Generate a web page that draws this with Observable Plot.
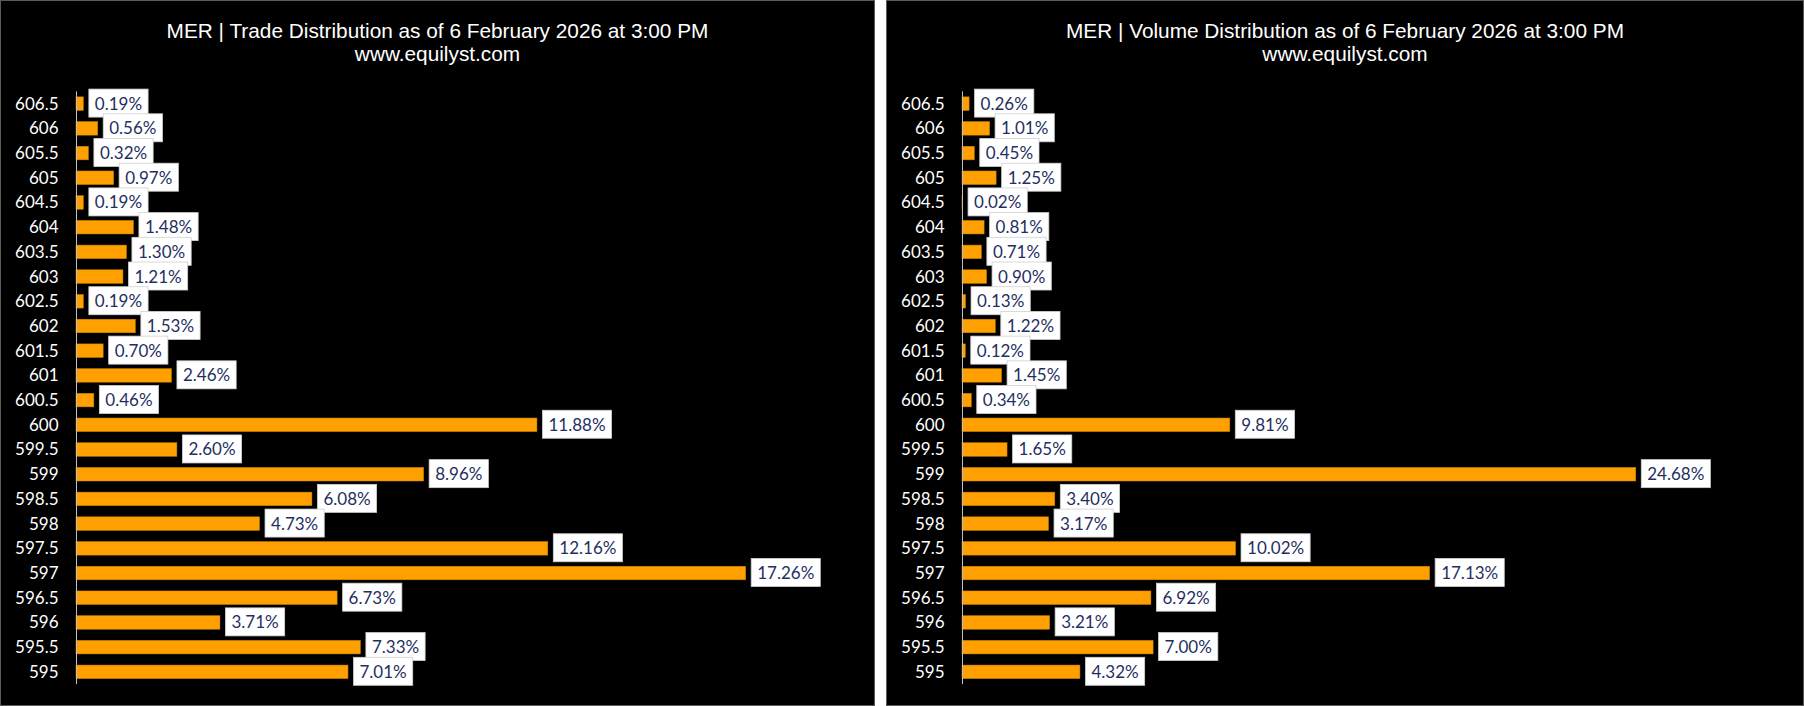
<!DOCTYPE html>
<html><head><meta charset="utf-8">
<script src="https://cdn.jsdelivr.net/npm/d3@7"></script>
<script src="https://cdn.jsdelivr.net/npm/@observablehq/plot@0.6"></script>
<style>
html,body{margin:0;padding:0;background:#fff;}
#wrap{position:relative;width:1804px;height:706px;background:#fff;overflow:hidden;}
.panel{position:absolute;top:0;height:706px;background:#000;box-shadow:inset 0 0 0 1px #5a5a5a;}
.title{position:absolute;left:0;right:0;top:19px;text-align:center;color:#fff;font-family:"Liberation Sans",Arial,sans-serif;font-size:20.8px;line-height:23px;}
.plotbox{position:absolute;left:0;top:80px;height:626px;}
.plotbox svg{display:block;max-width:none !important;}
.plotbox svg text.tick{font-size:17px !important;}
</style></head><body>
<div id="wrap">
  <div class="panel" style="left:0;width:875px">
    <div class="title">MER | Trade Distribution as of 6 February 2026 at 3:00 PM<br>www.equilyst.com</div>
    <div class="plotbox" id="c1" style="width:875px"></div>
  </div>
  <div class="panel" style="left:886px;width:918px">
    <div class="title">MER | Volume Distribution as of 6 February 2026 at 3:00 PM<br>www.equilyst.com</div>
    <div class="plotbox" id="c2" style="width:918px"></div>
  </div>
</div>
<script>
const prices = ["606.5","606","605.5","605","604.5","604","603.5","603","602.5","602","601.5","601","600.5","600","599.5","599","598.5","598","597.5","597","596.5","596","595.5","595"];
const tradePct = [0.19,0.56,0.32,0.97,0.19,1.48,1.30,1.21,0.19,1.53,0.70,2.46,0.46,11.88,2.60,8.96,6.08,4.73,12.16,17.26,6.73,3.71,7.33,7.01];
const volumePct = [0.26,1.01,0.45,1.25,0.02,0.81,0.71,0.90,0.13,1.22,0.12,1.45,0.34,9.81,1.65,24.68,3.40,3.17,10.02,17.13,6.92,3.21,7.00,4.32];
const tradeXMax = 20;
const volumeXMax = 30;

function draw(el, values, xMax, width) {
  const data = prices.map((p, i) => ({price: p, value: values[i]}));
  const height = 626;
  const plot = Plot.plot({
    width, height,
    marginTop: 11.3, marginBottom: 21.8, marginLeft: 76, marginRight: 23,
    style: {background: "transparent", color: "#fff", fontFamily: "Lato, sans-serif", overflow: "visible", width: width + "px", height: height + "px", maxWidth: "none"},
    x: {domain: [0, xMax], axis: null},
    y: {domain: prices, paddingInner: 0.45, paddingOuter: 0.225, round: false, axis: null},
    marks: [
      Plot.text(prices, {x: () => 0, y: d => d, text: d => d, textAnchor: "end", dx: -18, fill: "#fff", fontSize: 17, fontFamily: "Lato, sans-serif"}),
      Plot.barX(data, {x: "value", y: "price", fill: "#FFA000", stroke: "#c78000", strokeWidth: 0.5}),
      Plot.ruleX([0], {stroke: "#bfbfbf", strokeWidth: 1}),
      Plot.text(data, {x: "value", y: "price", text: d => d.value.toFixed(2) + "%", textAnchor: "start", dx: 11, fill: "#1F2F5F", fontSize: 17, fontFamily: "Lato, sans-serif"})
    ]
  });
  el.appendChild(plot);
  const groups = plot.querySelectorAll('g[aria-label="text"]');
  groups[0].querySelectorAll("text").forEach(t => {
    t.setAttribute("class", "tick");
    t.style.fontSize = "17px";
  });
  const g = groups[groups.length - 1];
  if (g) {
    g.querySelectorAll("text").forEach(t => {
      const b = t.getBBox();
      const r = document.createElementNS("http://www.w3.org/2000/svg", "rect");
      const cy = b.y + b.height / 2;
      r.setAttribute("x", b.x - 6);
      r.setAttribute("y", cy - 14);
      r.setAttribute("width", b.width + 12);
      r.setAttribute("height", 28);
      r.setAttribute("fill", "#fff");
      r.setAttribute("stroke", "#d0d0d0");
      r.setAttribute("stroke-width", 0.8);
      const tr = t.getAttribute("transform");
      if (tr) r.setAttribute("transform", tr);
      g.insertBefore(r, t);
    });
  }
}
draw(document.getElementById("c1"), tradePct, tradeXMax, 875);
draw(document.getElementById("c2"), volumePct, volumeXMax, 918);
</script>
</body></html>
